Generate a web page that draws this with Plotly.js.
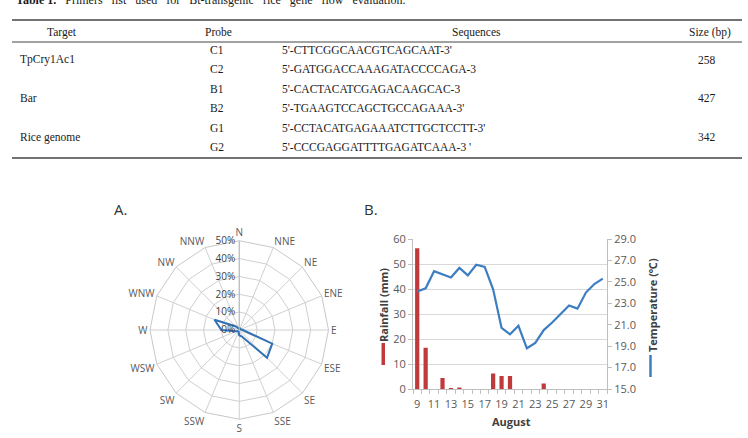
<!DOCTYPE html>
<html>
<head>
<meta charset="utf-8">
<script src="https://cdn.plot.ly/plotly-3.0.1.min.js"></script>
<style>html,body{margin:0;padding:0;background:#fff;}#chart{width:748px;height:438px;}</style>
</head>
<body>
<div id="chart"></div>
<script>
// ---------- Table data ----------
var tableHeader = ["Target", "Probe", "Sequences", "Size (bp)"];
var targets = ["TpCry1Ac1", "Bar", "Rice genome"];
var probes = ["C1", "C2", "B1", "B2", "G1", "G2"];
var sequences = [
  "5'-CTTCGGCAACGTCAGCAAT-3'",
  "5'-GATGGACCAAAGATACCCCAGA-3",
  "5'-CACTACATCGAGACAAGCAC-3",
  "5'-TGAAGTCCAGCTGCCAGAAA-3'",
  "5'-CCTACATGAGAAATCTTGCTCCTT-3'",
  "5'-CCCGAGGATTTTGAGATCAAA-3 '"
];
var sizes = ["258", "427", "342"];

// ---------- Panel A: wind rose ----------
var directions = ["N","NNE","NE","ENE","E","ESE","SE","SSE","S","SSW","SW","WSW","W","WNW","NW","NNW"];
var windFreq = [1, 1, 1, 1, 2, 20, 22, 4, 3, 1, 1, 2, 10, 15, 3, 1];
var radialTicks = [0, 10, 20, 30, 40, 50];

// ---------- Panel B: rainfall & temperature ----------
var days = [9,10,11,12,13,14,15,16,17,18,19,20,21,22,23,24,25,26,27,28,29,30,31];
var rainfall = [56.3,16.5,0,4.4,0.4,0.6,0,0,0,6.2,5.2,5.2,0,0,0,2.2,0,0,0,0,0,0,0];
var temperature = [24.1,24.4,26.0,25.7,25.4,26.3,25.6,26.6,26.4,24.3,20.7,20.1,20.9,18.8,19.3,20.5,21.2,22.0,22.8,22.5,24.0,24.8,25.3];
var dayLabels = ["9","11","13","15","17","19","21","23","25","27","29","31"];

// ---------- helpers (pixel -> paper) ----------
var W = 748, H = 438;
function px(x){ return x / W; }
function py(y){ return 1 - y / H; }

var serif = "Liberation Serif, Times New Roman, serif";
var sans = "Open Sans, Noto Sans, sans-serif";
var annotations = [];
var shapes = [];

function note(text, x, y, opts){
  var a = {text: text, x: px(x), y: py(y), xref: "paper", yref: "paper", showarrow: false,
    xanchor: "center", yanchor: "middle", font: {family: serif, size: 11.5, color: "#1a1a1a"}};
  for (var k in opts) a[k] = opts[k];
  annotations.push(a);
}

// Table title (clipped at the top edge)
var titleWords = "Primers list used for Bt-transgenic rice gene flow evaluation.".split(" ");
note("<b>Table 1.</b>\u00a0\u00a0\u00a0" + titleWords.join(" \u00a0\u00a0"), 14, 9,
  {xanchor: "left", yanchor: "bottom", font: {family: serif, size: 12, color: "#1a1a1a"}});

// Table rules
function hline(y, w){
  shapes.push({type: "line", xref: "paper", yref: "paper", x0: px(12), x1: px(742), y0: py(y), y1: py(y),
    line: {color: "#444", width: w}});
}
hline(20, 1.5); hline(42, 1); hline(158, 1.5);

// Header
var headerX = [62, 218, 476, 710];
tableHeader.forEach(function(t, i){ note(t, headerX[i], 32); });

// Rows
var rowY0 = 50, rowStep = 19.4;
probes.forEach(function(p, i){
  var y = rowY0 + i * rowStep;
  note(p, 217, y);
  note(sequences[i], 280, y, {xanchor: "left"});
});
targets.forEach(function(t, j){
  var y = rowY0 + (2 * j + 0.5) * rowStep;
  note(t, 18, y, {xanchor: "left"});
  note(sizes[j], 707, y);
});

// Panel labels
note("A.", 112, 209, {xanchor: "left", font: {family: sans, size: 15, color: "#333"}});
note("B.", 362, 209, {xanchor: "left", font: {family: sans, size: 15, color: "#333"}});

// Panel B axis titles with legend swatches
note("<b>Rainfall (mm)</b>", 383, 305, {textangle: -90, font: {family: sans, size: 11, color: "#404040"}});
note("<b>Temperature (\u2103)</b>", 652, 305, {textangle: -90, font: {family: sans, size: 11, color: "#404040"}});
note("<b>August</b>", 512, 421, {font: {family: sans, size: 11, color: "#404040"}});
shapes.push({type: "rect", xref: "paper", yref: "paper", x0: px(381.5), x1: px(385), y0: py(365), y1: py(343),
  fillcolor: "#c0393b", line: {width: 0}});
shapes.push({type: "line", xref: "paper", yref: "paper", x0: px(650.5), x1: px(650.5), y0: py(377), y1: py(355),
  line: {color: "#3d7ec1", width: 2.5}});

var minorTicks = days.map(function(d){ return d - 0.5; }).concat([days[days.length - 1] + 0.5]);

var traces = [
  {
    type: "scatterpolar", subplot: "polar", mode: "lines",
    r: windFreq.concat([windFreq[0]]), theta: directions.concat([directions[0]]),
    line: {color: "#2f72b5", width: 2}, hoverinfo: "skip"
  },
  {
    type: "bar", x: days, y: rainfall, xaxis: "x", yaxis: "y", width: 0.5,
    marker: {color: "#c0393b", line: {width: 0}}
  },
  {
    type: "scatter", mode: "lines", x: days, y: temperature, xaxis: "x", yaxis: "y2",
    line: {color: "#3d7ec1", width: 2.2}
  }
];

var layout = {
  width: W, height: H, margin: {l: 0, r: 0, t: 0, b: 0},
  paper_bgcolor: "#fff", plot_bgcolor: "#fff", showlegend: false,
  font: {family: sans, color: "#595959"},
  annotations: annotations, shapes: shapes,
  polar: {
    domain: {x: [px(150), px(328.5)], y: [py(419.25), py(240.75)]},
    gridshape: "linear", bgcolor: "#fff",
    angularaxis: {
      type: "category", categoryarray: directions, direction: "clockwise", rotation: 90,
      gridcolor: "#d0d0d0", linecolor: "#c8c8c8", showline: true, ticks: "",
      tickfont: {family: sans, size: 10, color: "#595959"}
    },
    radialaxis: {
      range: [0, 50], tickvals: radialTicks, ticktext: radialTicks.map(function(v){ return v + "%"; }),
      angle: 90, side: "counterclockwise",
      tickangle: 90, gridcolor: "#d0d0d0", showline: true, linecolor: "#b8b8b8", ticks: "",
      tickfont: {family: sans, size: 10, color: "#404040"}
    }
  },
  xaxis: {
    domain: [px(413), px(607)], anchor: "y", range: [8.5, 31.5],
    tickvals: dayLabels.map(Number), ticktext: dayLabels,
    ticks: "outside", ticklen: 5, tickcolor: "rgba(0,0,0,0)",
    minor: {tickvals: minorTicks, ticks: "outside", ticklen: 4, tickcolor: "#bfbfbf"},
    showline: true, linecolor: "#bfbfbf", showgrid: false, zeroline: false,
    tickfont: {family: sans, size: 11, color: "#595959"}, fixedrange: true
  },
  yaxis: {
    domain: [py(389), py(239)], anchor: "x", range: [0, 60], dtick: 10,
    showgrid: true, gridcolor: "#d9d9d9", showline: true, linecolor: "#bfbfbf",
    ticks: "outside", ticklen: 4, tickcolor: "#bfbfbf", zeroline: false,
    tickfont: {family: sans, size: 11, color: "#595959"}
  },
  yaxis2: {
    overlaying: "y", side: "right", anchor: "x", range: [15, 29], dtick: 2, tick0: 15,
    tickformat: ".1f", showgrid: false, showline: true, linecolor: "#bfbfbf",
    ticks: "outside", ticklen: 4, tickcolor: "#bfbfbf", zeroline: false,
    tickfont: {family: sans, size: 11, color: "#595959"}
  }
};

Plotly.newPlot("chart", traces, layout, {staticPlot: true, displayModeBar: false});
</script>
</body>
</html>
